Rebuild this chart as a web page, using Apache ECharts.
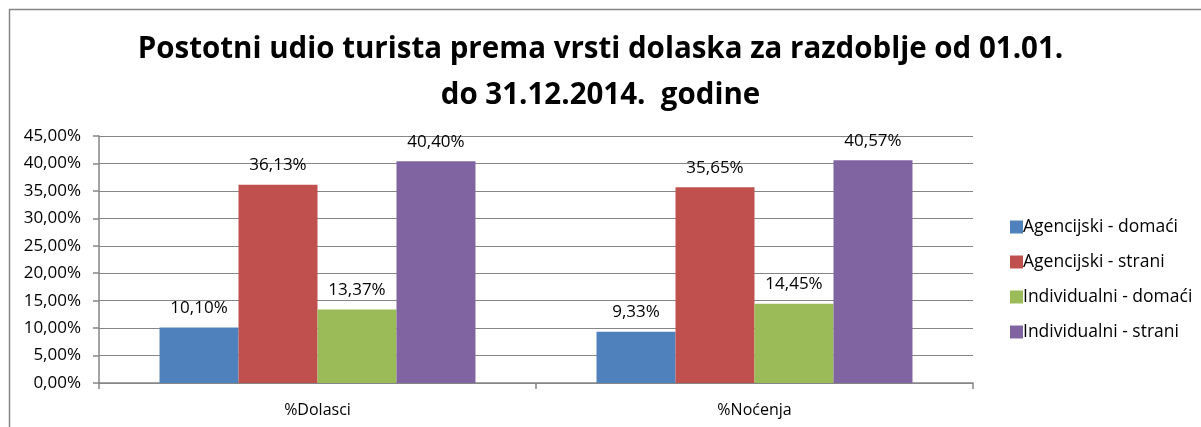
<!DOCTYPE html>
<html>
<head>
<meta charset="utf-8">
<script src="https://cdn.jsdelivr.net/npm/echarts@6/dist/echarts.min.js"></script>
<style>
  html, body { margin: 0; padding: 0; background: #fff; }
  #chart { width: 1201px; height: 427px; }
</style>
</head>
<body>
<div id="chart"></div>
<script>
// podaci
const categories = ['%Dolasci', '%Noćenja'];
const seriesNames = ['Agencijski - domaći', 'Agencijski - strani', 'Individualni - domaći', 'Individualni - strani'];
const agencijskiDomaci = [10.10, 9.33];
const agencijskiStrani = [36.13, 35.65];
const individualniDomaci = [13.37, 14.45];
const individualniStrani = [40.40, 40.57];
const colors = ['#4F81BD', '#C0504D', '#9BBB59', '#8064A2'];

const fmt = v => v.toFixed(2).replace('.', ',') + '%';
const font = '"Open Sans", sans-serif';

const chart = echarts.init(document.getElementById('chart'));
const values = [agencijskiDomaci, agencijskiStrani, individualniDomaci, individualniStrani];

chart.setOption({
    animation: false,
    textStyle: { fontFamily: font },
    graphic: [{
        type: 'rect',
        shape: { x: 9.5, y: 9.5, width: 1220, height: 440 },
        style: { fill: null, stroke: '#868686', lineWidth: 1.5 },
        silent: true
    }],
    title: {
        text: 'Postotni udio turista prema vrsti dolaska za razdoblje od 01.01.\ndo 31.12.2014.  godine',
        left: 'center',
        top: 22,
        textStyle: {
            fontFamily: font,
            fontWeight: 'bold',
            fontSize: 29.5,
            lineHeight: 46,
            color: '#000'
        }
    },
    legend: {
        orient: 'vertical',
        left: 1005,
        top: 213,
        itemWidth: 13,
        itemHeight: 13,
        itemGap: 17,
        icon: 'rect',
        data: seriesNames,
        textStyle: { fontFamily: font, fontSize: 17.5, color: '#000', padding: [0, 0, 0, -5] }
    },
    grid: { left: 99, right: 228, top: 136, bottom: 44 },
    xAxis: {
        type: 'category',
        data: categories,
        axisLine: { lineStyle: { color: '#868686', width: 1.5 } },
        axisTick: { show: true, length: 6, lineStyle: { color: '#868686', width: 1.5 } },
        axisLabel: { fontFamily: font, fontSize: 16, color: '#000', margin: 19 }
    },
    yAxis: {
        type: 'value',
        min: 0,
        max: 45,
        interval: 5,
        axisLine: { show: true, lineStyle: { color: '#868686', width: 1.5 } },
        axisTick: { show: true, length: 6, lineStyle: { color: '#868686', width: 1.5 } },
        splitLine: { lineStyle: { color: '#868686', width: 1.2 } },
        axisLabel: { fontFamily: font, fontSize: 17, color: '#000', margin: 18, formatter: fmt }
    },
    series: seriesNames.map((name, i) => ({
        name,
        type: 'bar',
        data: values[i],
        barGap: 0,
        barCategoryGap: '27.7%',
        itemStyle: { color: colors[i] },
        label: {
            show: true,
            position: 'top',
            distance: 11,
            fontFamily: font,
            fontSize: 17,
            color: '#000',
            formatter: p => fmt(p.value)
        }
    }))
});
</script>
</body>
</html>
